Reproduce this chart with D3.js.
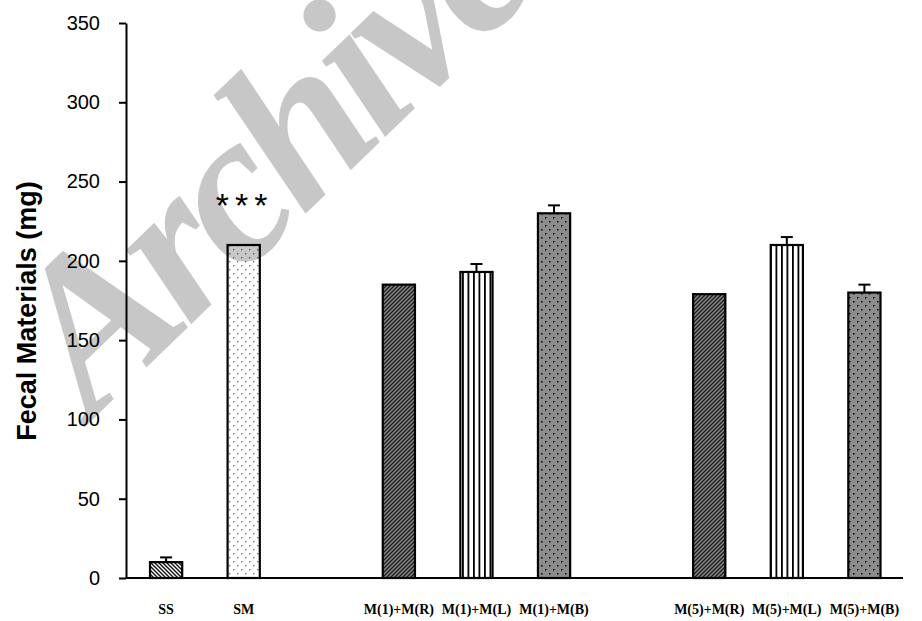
<!DOCTYPE html>
<html>
<head>
<meta charset="utf-8">
<script src="https://cdn.jsdelivr.net/npm/d3@7"></script>
<style>
  html, body { margin: 0; padding: 0; background: #fff; }
  svg { display: block; }
</style>
</head>
<body>
<svg id="chart" width="922" height="621"></svg>
<script>
// Slots along the x axis; blank entries are the gaps between groups
const slots = ["SS", "SM", "", "M(1)+M(R)", "M(1)+M(L)", "M(1)+M(B)", " ", "M(5)+M(R)", "M(5)+M(L)", "M(5)+M(B)"];
const groups = ["SS", "SM", "M(1)+M(R)", "M(1)+M(L)", "M(1)+M(B)", "M(5)+M(R)", "M(5)+M(L)", "M(5)+M(B)"];
const means = [10, 210, 185, 193, 230, 179, 210, 180];
const errors = [3, 0, 0, 5, 5, 0, 5, 5];
const fills = ["hatchBack", "dotsLight", "hatchDark", "vStripes", "dotsDark", "hatchDark", "vStripes", "dotsDark"];
const yTicks = [0, 50, 100, 150, 200, 250, 300, 350];
const significance = ["", "***", "", "", "", "", "", ""];

const svg = d3.select("#chart");
const axisLeftX = 126;

const x = d3.scaleBand().domain(slots).range([127.5, 903]).paddingInner(0.585).paddingOuter(0.29);
const y = d3.scaleLinear().domain([0, 350]).range([578, 23]);

// Fill patterns
const defs = svg.append("defs");
function pattern(id, w, h, build) {
  const p = defs.append("pattern").attr("id", id).attr("patternUnits", "userSpaceOnUse")
    .attr("width", w).attr("height", h);
  build(p);
}
pattern("hatchBack", 4, 4, p => {
  p.append("rect").attr("width", 4).attr("height", 4).attr("fill", "#fff");
  p.append("path").attr("d", "M-1,-1 L5,5 M-1,3 L1,5 M3,-1 L5,1").attr("stroke", "#111").attr("stroke-width", 1.4);
});
pattern("hatchDark", 4, 4, p => {
  p.append("rect").attr("width", 4).attr("height", 4).attr("fill", "#8a8a8a");
  p.append("path").attr("d", "M-1,5 L5,-1 M-1,1 L1,-1 M3,5 L5,3").attr("stroke", "#1a1a1a").attr("stroke-width", 1.4);
});
pattern("vStripes", 5.5, 10, p => {
  p.append("rect").attr("width", 5.5).attr("height", 10).attr("fill", "#fff");
  p.append("rect").attr("x", 0).attr("width", 1.8).attr("height", 10).attr("fill", "#000");
});
pattern("dotsDark", 8, 8, p => {
  p.append("rect").attr("width", 8).attr("height", 8).attr("fill", "#8c8c8c");
  p.append("rect").attr("x", 1).attr("y", 1).attr("width", 1.5).attr("height", 1.5).attr("fill", "#000");
  p.append("rect").attr("x", 5).attr("y", 5).attr("width", 1.5).attr("height", 1.5).attr("fill", "#000");
});
pattern("dotsLight", 8, 8, p => {
  p.append("rect").attr("width", 8).attr("height", 8).attr("fill", "#fff");
  p.append("rect").attr("x", 1).attr("y", 1).attr("width", 1.4).attr("height", 1.4).attr("fill", "#777");
  p.append("rect").attr("x", 5).attr("y", 5).attr("width", 1.4).attr("height", 1.4).attr("fill", "#777");
});

const data = groups.map((g, i) => ({ g, v: means[i], e: errors[i], fill: fills[i], sig: significance[i] }));

// Error bars (drawn beneath bars so the stem starts at the bar top)
const eb = svg.append("g").attr("stroke", "#000").attr("stroke-width", 2);
data.filter(d => d.e > 0).forEach(d => {
  const cx = x(d.g) + x.bandwidth() / 2;
  eb.append("line").attr("x1", cx).attr("x2", cx).attr("y1", y(d.v)).attr("y2", y(d.v + d.e));
  eb.append("line").attr("x1", cx - 6).attr("x2", cx + 6).attr("y1", y(d.v + d.e)).attr("y2", y(d.v + d.e));
});

// Bars
svg.append("g").selectAll("rect").data(data).join("rect")
  .attr("x", d => x(d.g))
  .attr("y", d => y(d.v))
  .attr("width", x.bandwidth())
  .attr("height", d => y(0) - y(d.v))
  .attr("fill", d => `url(#${d.fill})`)
  .attr("stroke", "#000")
  .attr("stroke-width", 2.2);

// Significance marks
svg.append("g").selectAll("text").data(data.filter(d => d.sig)).join("text")
  .attr("x", d => x(d.g) + x.bandwidth() / 2 + 1)
  .attr("y", d => y(d.v + d.e) - 28)
  .attr("text-anchor", "middle")
  .attr("font-family", "Liberation Sans, Arial, sans-serif")
  .attr("font-size", 34)
  .attr("letter-spacing", 6)
  .attr("fill", "#000")
  .text(d => d.sig);

// Y axis
const yAxis = svg.append("g").attr("transform", `translate(${axisLeftX},0)`)
  .call(d3.axisLeft(y).tickValues(yTicks).tickSize(7).tickPadding(19).tickSizeOuter(0));
yAxis.select(".domain").attr("stroke", "#000").attr("stroke-width", 2);
yAxis.selectAll(".tick line").attr("stroke", "#000").attr("stroke-width", 2);
yAxis.selectAll(".tick text").attr("font-family", "Liberation Sans, Arial, sans-serif")
  .attr("font-size", 20).attr("fill", "#000");

// X axis line and labels
const xAxis = svg.append("g").attr("transform", `translate(0,${y(0)})`)
  .call(d3.axisBottom(x).tickSize(0).tickPadding(26).tickFormat(s => s.trim()));
xAxis.select(".domain").attr("d", `M${axisLeftX},0H903`).attr("stroke", "#000").attr("stroke-width", 2);
xAxis.selectAll(".tick text").attr("font-family", "Liberation Serif, Times New Roman, serif")
  .attr("font-weight", "bold").attr("font-size", 14).attr("fill", "#000");

// Y axis title
svg.append("text")
  .attr("transform", "translate(36,311) rotate(-90)")
  .attr("text-anchor", "middle")
  .attr("font-family", "Liberation Sans, Arial, sans-serif")
  .attr("font-weight", "bold")
  .attr("font-size", 27)
  .attr("fill", "#000")
  .text("Fecal Materials (mg)");

// Watermark
svg.append("text")
  .attr("transform", "translate(92,420) rotate(-44)")
  .attr("font-family", "Liberation Serif, Times New Roman, serif")
  .attr("font-weight", "bold")
  .attr("font-style", "italic")
  .attr("font-size", 215)
  .attr("letter-spacing", -10)
  .attr("fill", "#000")
  .attr("fill-opacity", 0.22)
  .text("Archive");
</script>
</body>
</html>
